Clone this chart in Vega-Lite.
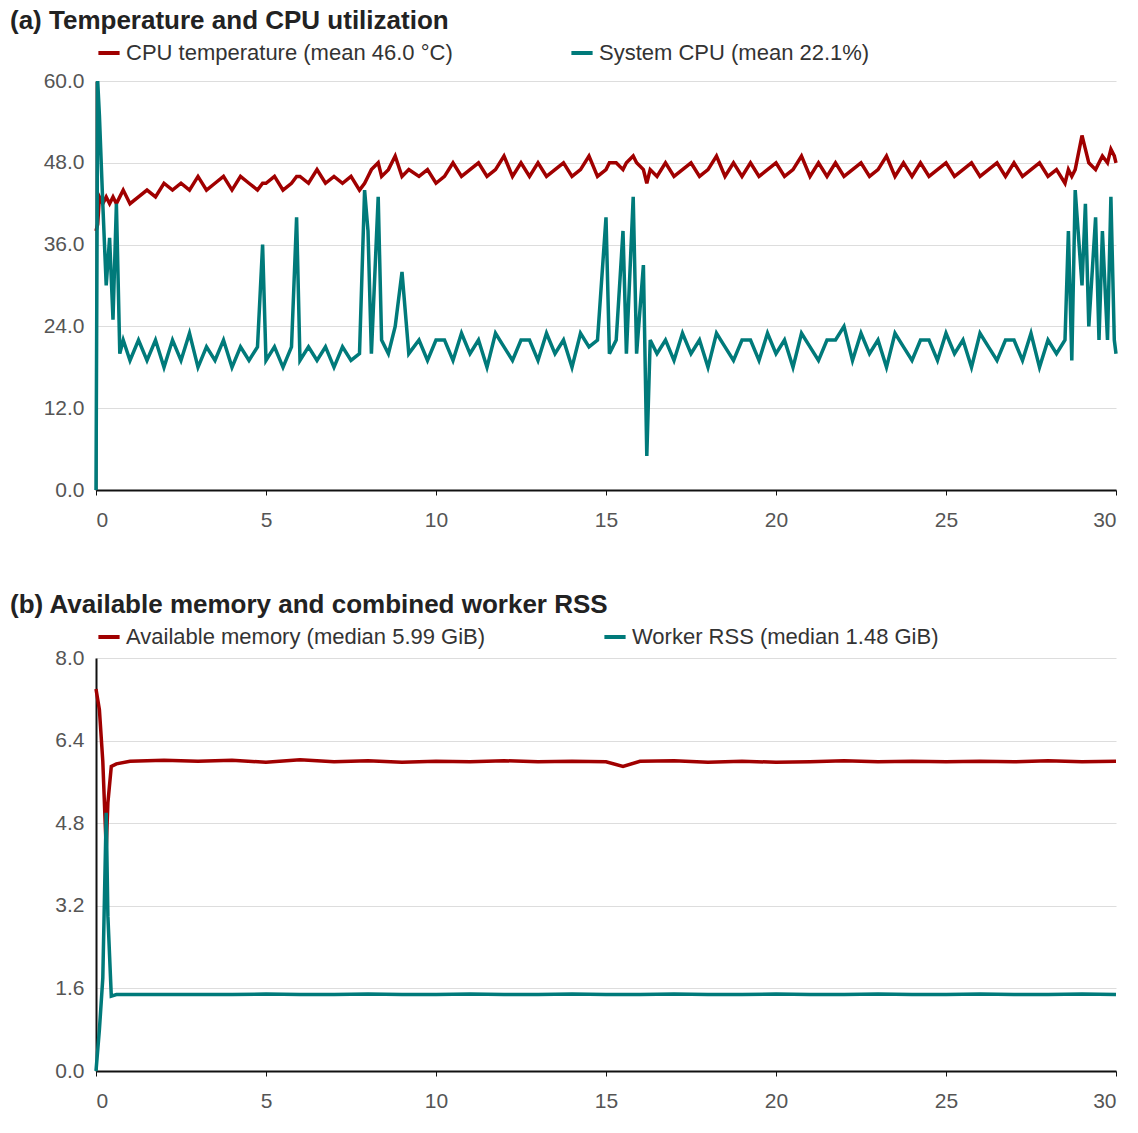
{
  "$schema": "https://vega.github.io/schema/vega-lite/v6.json",
  "background": "white",
  "padding": {"left": 10, "top": 8, "right": 20, "bottom": 5},
  "config": {
    "font": "Liberation Sans",
    "view": {"stroke": null},
    "title": {"fontSize": 26, "fontWeight": "bold", "anchor": "start", "frame": "group", "dx": -86, "color": "#222", "offset": 6},
    "axis": {"labelFontSize": 21, "labelColor": "#555", "titleFontSize": 0, "title": null, "domainColor": "#111", "domainWidth": 2},
    "legend": {"labelFontSize": 22, "labelColor": "#333", "symbolType": "stroke", "symbolStrokeWidth": 4, "symbolSize": 450, "columnPadding": 110, "orient": "top", "direction": "horizontal", "title": null, "offset": 10, "labelLimit": 600}
  },
  "spacing": 62,
  "vconcat": [
    {
      "title": "(a) Temperature and CPU utilization",
      "width": 1020,
      "height": 409,
      "data": {"values": [
        {"t":0,"temp":38,"cpu":0},{"t":0.05,"temp":39,"cpu":60},{"t":0.1,"temp":43,"cpu":55},{"t":0.2,"temp":42,"cpu":42},
        {"t":0.3,"temp":43,"cpu":30},{"t":0.4,"temp":42,"cpu":37},{"t":0.5,"temp":43,"cpu":25},{"t":0.6,"temp":42,"cpu":42},
        {"t":0.7,"temp":43,"cpu":20},{"t":0.8,"temp":44,"cpu":22},{"t":1.0,"temp":42,"cpu":19},{"t":1.25,"temp":43,"cpu":22},
        {"t":1.5,"temp":44,"cpu":19},{"t":1.75,"temp":43,"cpu":22},{"t":2.0,"temp":45,"cpu":18},{"t":2.25,"temp":44,"cpu":22},
        {"t":2.5,"temp":45,"cpu":19},{"t":2.75,"temp":44,"cpu":23},{"t":3.0,"temp":46,"cpu":18},{"t":3.25,"temp":44,"cpu":21},
        {"t":3.5,"temp":45,"cpu":19},{"t":3.75,"temp":46,"cpu":22},{"t":4.0,"temp":44,"cpu":18},{"t":4.25,"temp":46,"cpu":21},
        {"t":4.5,"temp":45,"cpu":19},{"t":4.75,"temp":44,"cpu":21},{"t":4.9,"temp":45,"cpu":36},{"t":5.0,"temp":45,"cpu":19},
        {"t":5.25,"temp":46,"cpu":21},{"t":5.5,"temp":44,"cpu":18},{"t":5.75,"temp":45,"cpu":21},{"t":5.9,"temp":46,"cpu":40},
        {"t":6.0,"temp":46,"cpu":19},{"t":6.25,"temp":45,"cpu":21},{"t":6.5,"temp":47,"cpu":19},{"t":6.75,"temp":45,"cpu":21},
        {"t":7.0,"temp":46,"cpu":18},{"t":7.25,"temp":45,"cpu":21},{"t":7.5,"temp":46,"cpu":19},{"t":7.75,"temp":44,"cpu":20},
        {"t":7.9,"temp":45,"cpu":44},{"t":8.0,"temp":46,"cpu":38},{"t":8.1,"temp":47,"cpu":20},{"t":8.3,"temp":48,"cpu":43},
        {"t":8.4,"temp":46,"cpu":22},{"t":8.6,"temp":47,"cpu":20},{"t":8.8,"temp":49,"cpu":24},{"t":9.0,"temp":46,"cpu":32},
        {"t":9.2,"temp":47,"cpu":20},{"t":9.5,"temp":46,"cpu":22},{"t":9.75,"temp":47,"cpu":19},{"t":10.0,"temp":45,"cpu":22},
        {"t":10.25,"temp":46,"cpu":22},{"t":10.5,"temp":48,"cpu":19},{"t":10.75,"temp":46,"cpu":23},{"t":11.0,"temp":47,"cpu":20},
        {"t":11.25,"temp":48,"cpu":22},{"t":11.5,"temp":46,"cpu":18},{"t":11.75,"temp":47,"cpu":23},{"t":12.0,"temp":49,"cpu":21},
        {"t":12.25,"temp":46,"cpu":19},{"t":12.5,"temp":48,"cpu":22},{"t":12.75,"temp":46,"cpu":22},{"t":13.0,"temp":48,"cpu":19},
        {"t":13.25,"temp":46,"cpu":23},{"t":13.5,"temp":47,"cpu":20},{"t":13.75,"temp":48,"cpu":22},{"t":14.0,"temp":46,"cpu":18},
        {"t":14.25,"temp":47,"cpu":23},{"t":14.5,"temp":49,"cpu":21},{"t":14.75,"temp":46,"cpu":22},
        {"t":15.0,"temp":47,"cpu":40},{"t":15.1,"temp":48,"cpu":20},{"t":15.3,"temp":48,"cpu":22},{"t":15.5,"temp":47,"cpu":38},
        {"t":15.6,"temp":48,"cpu":20},{"t":15.8,"temp":49,"cpu":43},{"t":15.9,"temp":48,"cpu":20},{"t":16.1,"temp":47,"cpu":33},
        {"t":16.2,"temp":45,"cpu":5},{"t":16.3,"temp":47,"cpu":22},{"t":16.5,"temp":46,"cpu":20},
        {"t":16.75,"temp":48,"cpu":22},{"t":17.0,"temp":46,"cpu":19},{"t":17.25,"temp":47,"cpu":23},{"t":17.5,"temp":48,"cpu":20},
        {"t":17.75,"temp":46,"cpu":22},{"t":18.0,"temp":47,"cpu":18},{"t":18.25,"temp":49,"cpu":23},{"t":18.5,"temp":46,"cpu":21},
        {"t":18.75,"temp":48,"cpu":19},{"t":19.0,"temp":46,"cpu":22},{"t":19.25,"temp":48,"cpu":22},{"t":19.5,"temp":46,"cpu":19},
        {"t":19.75,"temp":47,"cpu":23},{"t":20.0,"temp":48,"cpu":20},{"t":20.25,"temp":46,"cpu":22},{"t":20.5,"temp":47,"cpu":18},
        {"t":20.75,"temp":49,"cpu":23},{"t":21.0,"temp":46,"cpu":21},{"t":21.25,"temp":48,"cpu":19},{"t":21.5,"temp":46,"cpu":22},
        {"t":21.75,"temp":48,"cpu":22},{"t":22.0,"temp":46,"cpu":24},{"t":22.25,"temp":47,"cpu":19},{"t":22.5,"temp":48,"cpu":23},
        {"t":22.75,"temp":46,"cpu":20},{"t":23.0,"temp":47,"cpu":22},{"t":23.25,"temp":49,"cpu":18},{"t":23.5,"temp":46,"cpu":23},
        {"t":23.75,"temp":48,"cpu":21},{"t":24.0,"temp":46,"cpu":19},{"t":24.25,"temp":48,"cpu":22},{"t":24.5,"temp":46,"cpu":22},
        {"t":24.75,"temp":47,"cpu":19},{"t":25.0,"temp":48,"cpu":23},{"t":25.25,"temp":46,"cpu":20},{"t":25.5,"temp":47,"cpu":22},
        {"t":25.75,"temp":48,"cpu":18},{"t":26.0,"temp":46,"cpu":23},{"t":26.25,"temp":47,"cpu":21},{"t":26.5,"temp":48,"cpu":19},
        {"t":26.75,"temp":46,"cpu":22},{"t":27.0,"temp":48,"cpu":22},{"t":27.25,"temp":46,"cpu":19},{"t":27.5,"temp":47,"cpu":23},
        {"t":27.75,"temp":48,"cpu":18},{"t":28.0,"temp":46,"cpu":22},{"t":28.25,"temp":47,"cpu":20},{"t":28.5,"temp":45,"cpu":22},
        {"t":28.6,"temp":47,"cpu":38},{"t":28.7,"temp":46,"cpu":19},{"t":28.8,"temp":47,"cpu":44},{"t":29.0,"temp":52,"cpu":30},
        {"t":29.1,"temp":50,"cpu":42},{"t":29.2,"temp":48,"cpu":24},{"t":29.4,"temp":47,"cpu":40},{"t":29.5,"temp":48,"cpu":22},
        {"t":29.6,"temp":49,"cpu":38},{"t":29.75,"temp":48,"cpu":22},{"t":29.85,"temp":50,"cpu":43},{"t":29.95,"temp":49,"cpu":22},
        {"t":30.0,"temp":48,"cpu":20}
      ]},
      "transform": [
        {"fold": ["temp", "cpu"], "as": ["key", "v"]},
        {"calculate": "datum.key == 'temp' ? 'CPU temperature (mean 46.0 °C)' : 'System CPU (mean 22.1%)'", "as": "series"}
      ],
      "mark": {"type": "line", "strokeWidth": 3.5},
      "encoding": {
        "x": {"field": "t", "type": "quantitative", "scale": {"domain": [0, 30]}, "axis": {"values": [0,5,10,15,20,25,30], "grid": false, "tickSize": 5, "tickColor": "#111", "labelPadding": 14}},
        "y": {"field": "v", "type": "quantitative", "scale": {"domain": [0, 60]}, "axis": {"values": [0,12,24,36,48,60], "format": ".1f", "gridColor": "#ddd", "ticks": false, "labelPadding": 12}},
        "color": {"field": "series", "type": "nominal", "sort": ["CPU temperature (mean 46.0 °C)", "System CPU (mean 22.1%)"], "scale": {"range": ["#a00000", "#007a7a"]}}
      }
    },
    {
      "title": "(b) Available memory and combined worker RSS",
      "width": 1020,
      "height": 413,
      "data": {"values": [
        {"t":0,"mem":7.4,"rss":0.0},{"t":0.1,"mem":7.0,"rss":0.8},{"t":0.2,"mem":6.0,"rss":1.8},{"t":0.3,"mem":4.3,"rss":5.0},
        {"t":0.35,"mem":5.2,"rss":3.0},{"t":0.45,"mem":5.9,"rss":1.45},{"t":0.6,"mem":5.95,"rss":1.48},{"t":1,"mem":6.0,"rss":1.48},
        {"t":2,"mem":6.02,"rss":1.48},{"t":3,"mem":6.0,"rss":1.48},{"t":4,"mem":6.02,"rss":1.48},{"t":5,"mem":5.98,"rss":1.49},
        {"t":6,"mem":6.03,"rss":1.48},{"t":7,"mem":5.99,"rss":1.48},{"t":8,"mem":6.01,"rss":1.49},{"t":9,"mem":5.98,"rss":1.48},
        {"t":10,"mem":6.0,"rss":1.48},{"t":11,"mem":5.99,"rss":1.49},{"t":12,"mem":6.01,"rss":1.48},{"t":13,"mem":5.99,"rss":1.48},
        {"t":14,"mem":6.0,"rss":1.49},{"t":15,"mem":5.99,"rss":1.48},{"t":15.5,"mem":5.9,"rss":1.48},{"t":16,"mem":6.0,"rss":1.48},
        {"t":17,"mem":6.01,"rss":1.49},{"t":18,"mem":5.98,"rss":1.48},{"t":19,"mem":6.0,"rss":1.48},{"t":20,"mem":5.98,"rss":1.49},
        {"t":21,"mem":5.99,"rss":1.48},{"t":22,"mem":6.01,"rss":1.48},{"t":23,"mem":5.99,"rss":1.49},{"t":24,"mem":6.0,"rss":1.48},
        {"t":25,"mem":5.99,"rss":1.48},{"t":26,"mem":6.0,"rss":1.49},{"t":27,"mem":5.99,"rss":1.48},{"t":28,"mem":6.01,"rss":1.48},
        {"t":29,"mem":5.99,"rss":1.49},{"t":30,"mem":6.0,"rss":1.48}
      ]},
      "transform": [
        {"fold": ["mem", "rss"], "as": ["key", "v"]},
        {"calculate": "datum.key == 'mem' ? 'Available memory (median 5.99 GiB)' : 'Worker RSS (median 1.48 GiB)'", "as": "series"}
      ],
      "mark": {"type": "line", "strokeWidth": 3.5},
      "encoding": {
        "x": {"field": "t", "type": "quantitative", "scale": {"domain": [0, 30]}, "axis": {"values": [0,5,10,15,20,25,30], "grid": false, "tickSize": 5, "tickColor": "#111", "labelPadding": 14}},
        "y": {"field": "v", "type": "quantitative", "scale": {"domain": [0, 8]}, "axis": {"values": [0,1.6,3.2,4.8,6.4,8], "format": ".1f", "gridColor": "#ddd", "ticks": false, "labelPadding": 12}},
        "color": {"field": "series", "type": "nominal", "sort": ["Available memory (median 5.99 GiB)", "Worker RSS (median 1.48 GiB)"], "scale": {"range": ["#a00000", "#007a7a"]}}
      }
    }
  ],
  "resolve": {"scale": {"color": "independent"}, "legend": {"color": "independent"}}
}
